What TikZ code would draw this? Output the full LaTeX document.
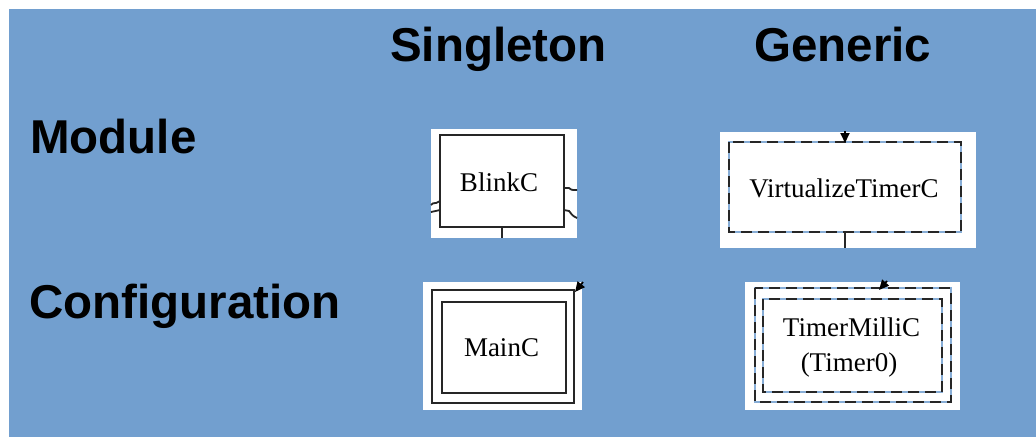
\documentclass[tikz,border=0pt]{standalone}
\usepackage{fontspec}
\setmainfont{Liberation Serif}
\newfontfamily\headfont{Liberation Sans}
\usetikzlibrary{arrows.meta}
\definecolor{slideblue}{RGB}{114,159,207}
\tikzset{
  heading/.style={font=\headfont\bfseries\fontsize{47.5}{50}\selectfont, inner sep=0pt, anchor=base west},
  boxlabel/.style={font=\fontsize{27}{30}\selectfont, inner sep=0pt, anchor=base},
  panel/.style={fill=white, draw=none},
  solidedge/.style={draw=black!85, line width=2.1pt},
  dashunder/.style={draw=slideblue!85!white, line width=1.1pt},
  dashedge/.style={draw=black!85, line width=2.5pt, dash pattern=on 11pt off 6pt},
  wire/.style={draw=black!85, line width=1.8pt},
  tip/.style={-{Triangle[length=10pt,width=9pt]}, line width=1.8pt, draw=black, fill=black}
}
\begin{document}
\begin{tikzpicture}[x=1pt,y=-1pt]
\useasboundingbox (0,0) rectangle (1036,437);
\fill[white] (0,0) rectangle (1036,437);
\fill[slideblue] (9,9) rectangle (1036,437);

% column and row headings
\node[heading] (hsingle) at (390,61.7) {Singleton};
\node[heading] (hgeneric) at (754,61.7) {Generic};
\node[heading] (hmodule) at (30,153.3) {Module};
\node[heading] (hconfig) at (29,318) {Configuration};

% singleton module: BlinkC
\path[panel] (431,129) rectangle (577,238);
\path[solidedge] (440,135) rectangle (564,227);
\coordinate (blinkS) at (502,227);
\coordinate (blinkSend) at (502,238);
\draw[wire] (blinkS) -- (blinkSend);
\coordinate (blinkE1) at (564,188);
\coordinate (blinkE1end) at (577,190);
\draw[wire] (blinkE1) -- (569,188) .. controls (571,190) .. (blinkE1end);
\coordinate (blinkE2) at (564,210);
\coordinate (blinkE2end) at (577,218);
\draw[wire] (blinkE2) -- (569,211) .. controls (573,216) .. (blinkE2end);
\coordinate (blinkW1) at (440,201);
\coordinate (blinkW1end) at (431,205);
\draw[wire] (blinkW1) -- (436,203) .. controls (433,203) .. (blinkW1end);
\coordinate (blinkW2) at (440,210);
\coordinate (blinkW2end) at (431,212);
\draw[wire] (blinkW2) -- (blinkW2end);
\node[boxlabel] (blink) at (499,191.7) {BlinkC};

% generic module: VirtualizeTimerC
\path[panel] (720,132) rectangle (976,248);
\path[dashunder] (729,142) rectangle (961,232);
\path[dashedge] (729,142) rectangle (961,232);
\coordinate (virtN) at (845,143);
\coordinate (virtNstart) at (845,131);
\draw[tip] (virtNstart) -- (virtN);
\coordinate (virtS) at (845,232);
\coordinate (virtSend) at (845,248);
\draw[wire] (virtS) -- (virtSend);
\node[boxlabel] (virt) at (844,197.3) {VirtualizeTimerC};

% singleton configuration: MainC
\path[panel] (423,282) rectangle (582,410);
\path[solidedge] (432,290) rectangle (574,403);
\path[solidedge] (442,302) rectangle (566,393);
\coordinate (mainNE) at (575,292);
\coordinate (mainNEstart) at (583,282);
\draw[tip] (mainNEstart) -- (mainNE);
\node[boxlabel] (main) at (501.5,356.7) {MainC};

% generic configuration: TimerMilliC
\path[panel] (745,282) rectangle (960,410);
\path[dashunder] (755,288) rectangle (951,402);
\path[dashedge] (755,288) rectangle (951,402);
\path[dashunder] (763,299) rectangle (942,392);
\path[dashedge] (763,299) rectangle (942,392);
\coordinate (timerN) at (879,290);
\coordinate (timerNstart) at (887,281);
\draw[tip] (timerNstart) -- (timerN);
\node[boxlabel] (timer) at (851.5,336.7) {TimerMilliC};
\node[boxlabel] (timerarg) at (849,371.7) {(Timer0)};
\end{tikzpicture}
\end{document}
